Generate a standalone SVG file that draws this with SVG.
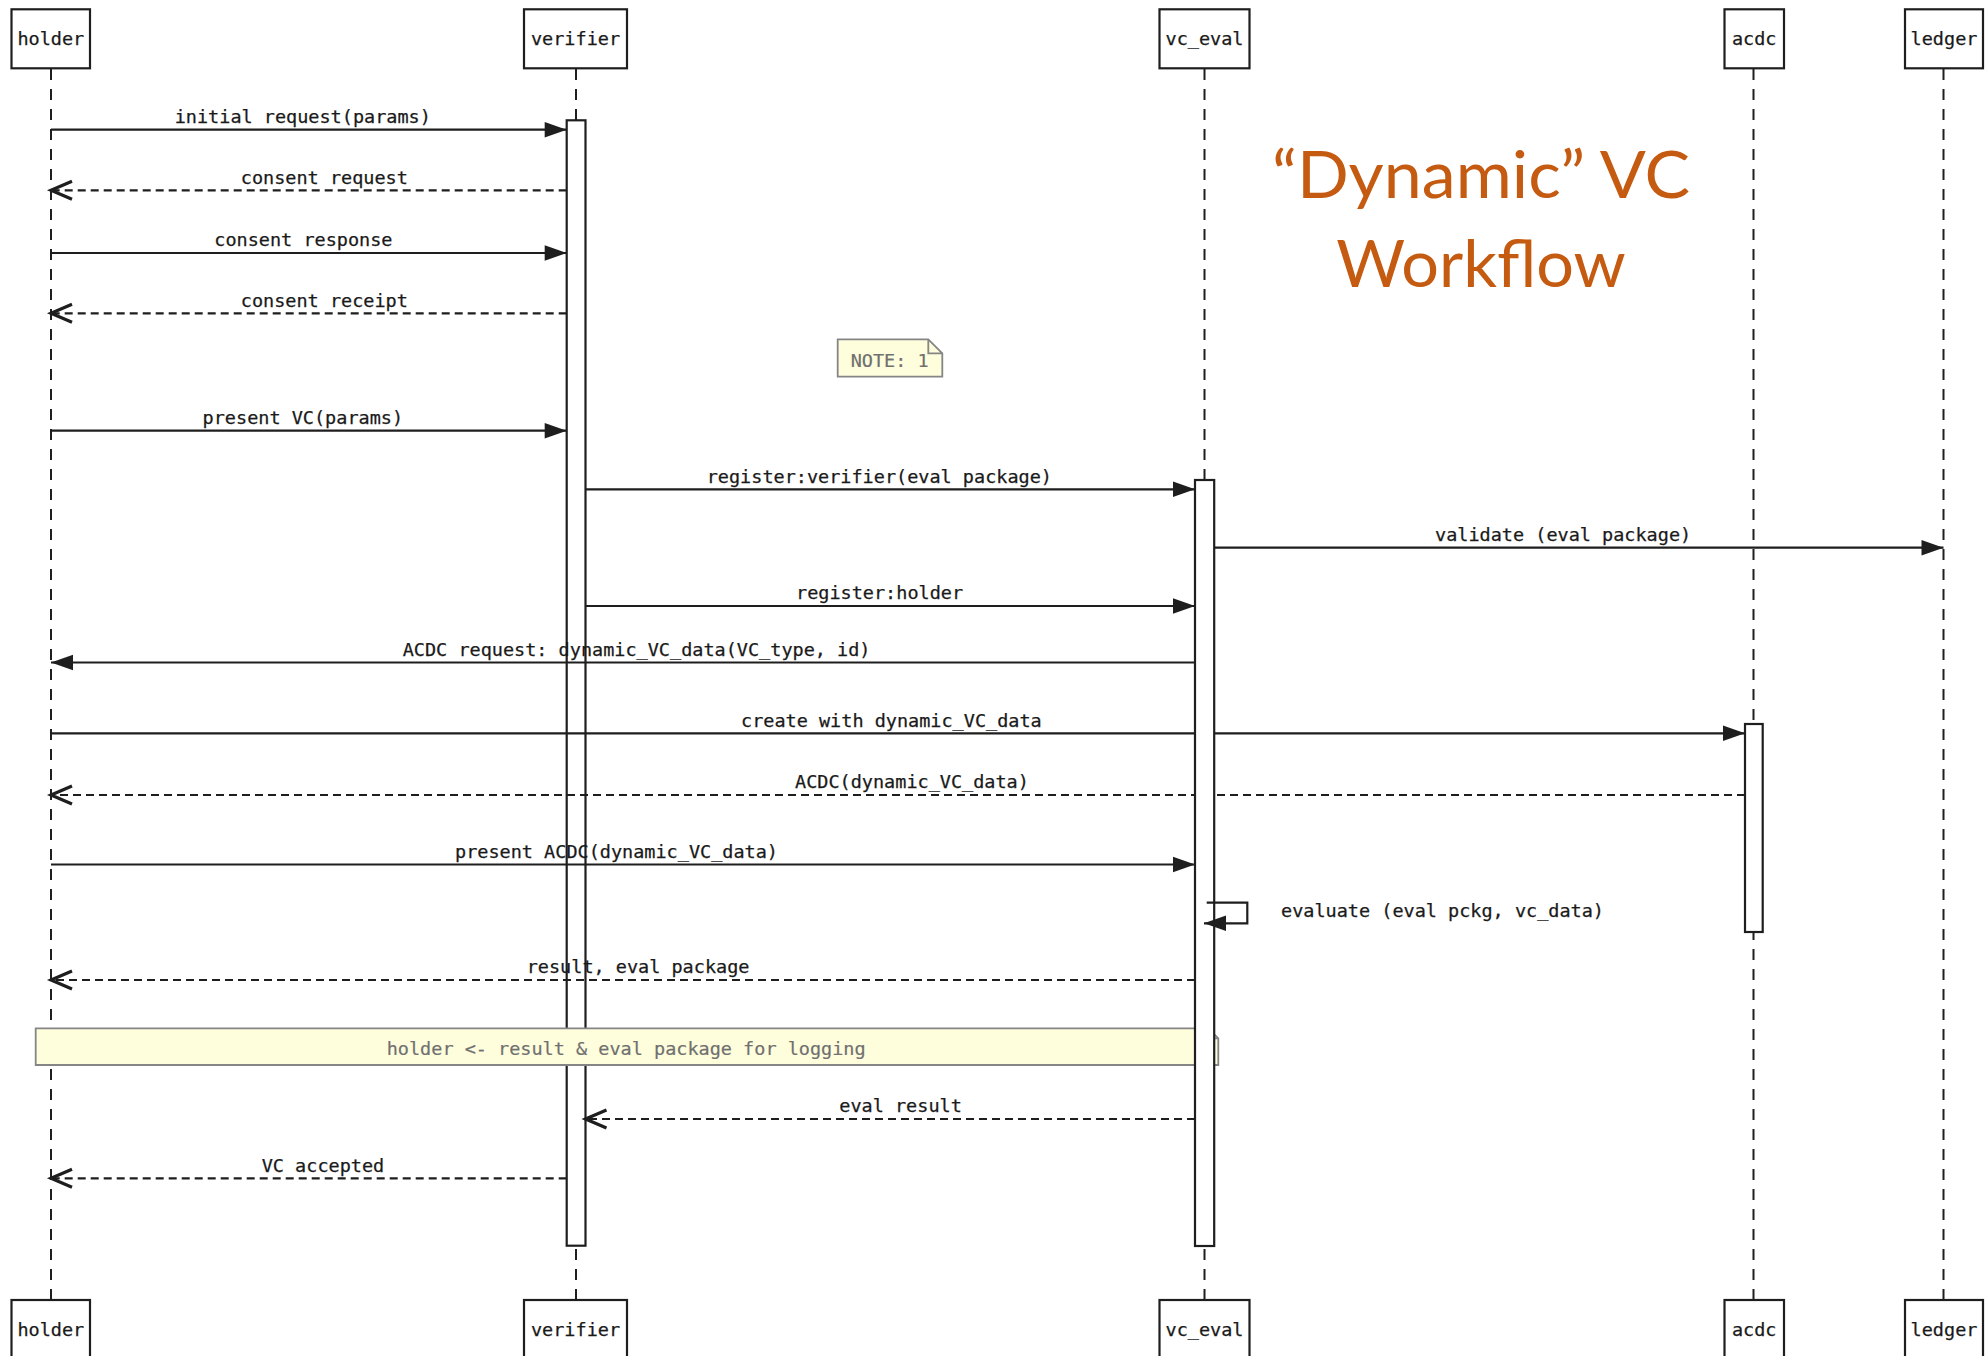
<svg xmlns="http://www.w3.org/2000/svg" width="1985" height="1356" viewBox="0 0 1985 1356">
  <style>
    .bg { fill: #ffffff; }
    .box { fill: #ffffff; stroke: #1e1e1e; stroke-width: 2.2; }
    .lbl { font-family: "DejaVu Sans Mono", "Liberation Mono", monospace; font-size: 18.5px; fill: #1a1a1a; stroke: #1a1a1a; stroke-width: 0.25; }
    .mid { text-anchor: middle; }
    .life { stroke: #1e1e1e; stroke-width: 2; stroke-dasharray: 11 9; fill: none; }
    .act { fill: #ffffff; stroke: #1e1e1e; stroke-width: 2.2; }
    .msg { stroke: #1e1e1e; stroke-width: 2.2; fill: none; marker-end: url(#solidHead); }
    .ret { stroke: #1e1e1e; stroke-width: 2.2; fill: none; stroke-dasharray: 8 5; marker-end: url(#openHead); }
    .note { fill: #fefddc; stroke: #858585; stroke-width: 1.8; }
    .fold { fill: none; stroke: #858585; stroke-width: 1.8; }
    .ntxt { font-family: "DejaVu Sans Mono", "Liberation Mono", monospace; font-size: 18.5px; fill: #707070; stroke: #707070; stroke-width: 0.2; }
    .title { font-family: Lato, "Open Sans", "Liberation Sans", sans-serif; font-size: 66px; fill: #c55a11; text-anchor: middle; }
  </style>
  <defs>
    <marker id="solidHead" markerUnits="userSpaceOnUse" viewBox="-24 -10 25 20" markerWidth="25" markerHeight="20" refX="0" refY="0" orient="auto" overflow="visible">
      <path d="M0,0 L-22,-7.8 L-22,7.8 Z" fill="#1e1e1e" stroke="none"/>
    </marker>
    <marker id="openHead" markerUnits="userSpaceOnUse" viewBox="-24 -11 25 22" markerWidth="25" markerHeight="22" refX="0" refY="0" orient="auto" overflow="visible">
      <path d="M-21,-9 L0,0 L-21,9" fill="none" stroke="#1e1e1e" stroke-width="3.2" stroke-linejoin="miter" stroke-dasharray="none"/>
    </marker>
  </defs>

  <rect class="bg" x="0" y="0" width="1985" height="1356"/>

  <!-- title -->
  <g id="title">
    <text class="title" x="1481" y="198.3" textLength="418" lengthAdjust="spacingAndGlyphs">“Dynamic” VC</text>
    <text class="title" x="1481" y="287.3" textLength="289.5" lengthAdjust="spacingAndGlyphs">Workflow</text>
  </g>

  <!-- lifelines -->
  <g id="lifelines">
    <line class="life" x1="51" y1="69" x2="51" y2="1300"/>
    <line class="life" x1="576" y1="69" x2="576" y2="1300"/>
    <line class="life" x1="1204.5" y1="69" x2="1204.5" y2="1300"/>
    <line class="life" x1="1753.5" y1="69" x2="1753.5" y2="1300"/>
    <line class="life" x1="1943.5" y1="69" x2="1943.5" y2="1300"/>
  </g>

  <!-- participants, head and foot -->
  <g id="holder">
    <rect class="box" x="11.5" y="9.3" width="78.5" height="59"/>
    <text class="lbl mid" x="50.8" y="44.8">holder</text>
    <rect class="box" x="11.5" y="1300" width="78.5" height="59"/>
    <text class="lbl mid" x="50.8" y="1335.5">holder</text>
  </g>
  <g id="verifier">
    <rect class="box" x="524" y="9.3" width="103" height="59"/>
    <text class="lbl mid" x="575.5" y="44.8">verifier</text>
    <rect class="box" x="524" y="1300" width="103" height="59"/>
    <text class="lbl mid" x="575.5" y="1335.5">verifier</text>
  </g>
  <g id="vc_eval">
    <rect class="box" x="1159.5" y="9.3" width="90" height="59"/>
    <text class="lbl mid" x="1204.5" y="44.8">vc_eval</text>
    <rect class="box" x="1159.5" y="1300" width="90" height="59"/>
    <text class="lbl mid" x="1204.5" y="1335.5">vc_eval</text>
  </g>
  <g id="acdc">
    <rect class="box" x="1724.5" y="9.3" width="59.5" height="59"/>
    <text class="lbl mid" x="1754.2" y="44.8">acdc</text>
    <rect class="box" x="1724.5" y="1300" width="59.5" height="59"/>
    <text class="lbl mid" x="1754.2" y="1335.5">acdc</text>
  </g>
  <g id="ledger">
    <rect class="box" x="1905" y="9.3" width="78" height="59"/>
    <text class="lbl mid" x="1944" y="44.8">ledger</text>
    <rect class="box" x="1905" y="1300" width="78" height="59"/>
    <text class="lbl mid" x="1944" y="1335.5">ledger</text>
  </g>

  <!-- verifier activation -->
  <g id="verifier-activation">
    <rect class="act" x="566.7" y="120.3" width="18.8" height="1125.4"/>
  </g>

  <!-- messages -->
  <g id="connectors">
    <line class="msg" x1="51" y1="129.7" x2="566.7" y2="129.7"/>
    <text class="lbl" x="174.7" y="123">initial request(params)</text>

    <line class="ret" x1="566.7" y1="190.3" x2="51" y2="190.3"/>
    <text class="lbl" x="240.8" y="183.6">consent request</text>

    <line class="msg" x1="51" y1="253" x2="566.7" y2="253"/>
    <text class="lbl" x="214.3" y="246.3">consent response</text>

    <line class="ret" x1="566.7" y1="313.3" x2="51" y2="313.3"/>
    <text class="lbl" x="240.8" y="306.6">consent receipt</text>

    <line class="msg" x1="51" y1="430.7" x2="566.7" y2="430.7"/>
    <text class="lbl" x="202.6" y="424">present VC(params)</text>

    <line class="msg" x1="585.5" y1="489.3" x2="1195" y2="489.3"/>
    <text class="lbl" x="706.7" y="482.6">register:verifier(eval package)</text>

    <line class="msg" x1="1214" y1="547.7" x2="1943.5" y2="547.7"/>
    <text class="lbl" x="1435" y="541">validate (eval package)</text>

    <line class="msg" x1="585.5" y1="606" x2="1195" y2="606"/>
    <text class="lbl" x="796" y="599.3">register:holder</text>

    <line class="msg" x1="1195" y1="662.5" x2="51" y2="662.5"/>
    <text class="lbl" x="402.7" y="655.8">ACDC request: dynamic_VC_data(VC_type, id)</text>

    <line class="msg" x1="51" y1="733.3" x2="1745" y2="733.3"/>
    <text class="lbl" x="741" y="726.6">create with dynamic_VC_data</text>

    <line class="ret" x1="1745" y1="795" x2="51" y2="795"/>
    <text class="lbl" x="795" y="788.3">ACDC(dynamic_VC_data)</text>

    <line class="msg" x1="51" y1="864.5" x2="1195" y2="864.5"/>
    <text class="lbl" x="455" y="857.8">present ACDC(dynamic_VC_data)</text>

    <line class="ret" x1="1195" y1="980" x2="51" y2="980"/>
    <text class="lbl" x="526.7" y="973.3">result, eval package</text>

    <line class="ret" x1="1195" y1="1119" x2="585.5" y2="1119"/>
    <text class="lbl" x="839.3" y="1112.3">eval result</text>

    <line class="ret" x1="566.7" y1="1178.3" x2="51" y2="1178.3"/>
    <text class="lbl" x="261.7" y="1171.6">VC accepted</text>
  </g>

  <!-- notes -->
  <g id="note-1">
    <path class="note" d="M837.7,339.3 H928.3 L942.3,353.3 V376.7 H837.7 Z"/>
    <path class="fold" d="M928.3,339.3 V353.3 H942.3"/>
    <text class="ntxt" x="850.7" y="366.5">NOTE: 1</text>
  </g>
  <g id="note-logging">
    <path class="note" d="M35.7,1028.3 H1208.3 L1218.3,1038.3 V1065 H35.7 Z"/>
    <path class="fold" d="M1208.3,1028.3 V1038.3 H1218.3"/>
    <text class="ntxt" x="386.7" y="1055">holder &lt;- result &amp; eval package for logging</text>
  </g>

  <!-- vc_eval and acdc activations -->
  <g id="vc_eval-activation">
    <rect class="act" x="1195" y="480" width="19.2" height="766"/>
  </g>
  <g id="acdc-activation">
    <rect class="act" x="1745" y="724" width="17.7" height="208"/>
  </g>

  <!-- self message on vc_eval -->
  <g id="self-evaluate">
    <path class="msg" d="M1206.7,902.7 H1247.3 V923.3 H1204"/>
    <text class="lbl" x="1281" y="916.8">evaluate (eval pckg, vc_data)</text>
  </g>
</svg>
